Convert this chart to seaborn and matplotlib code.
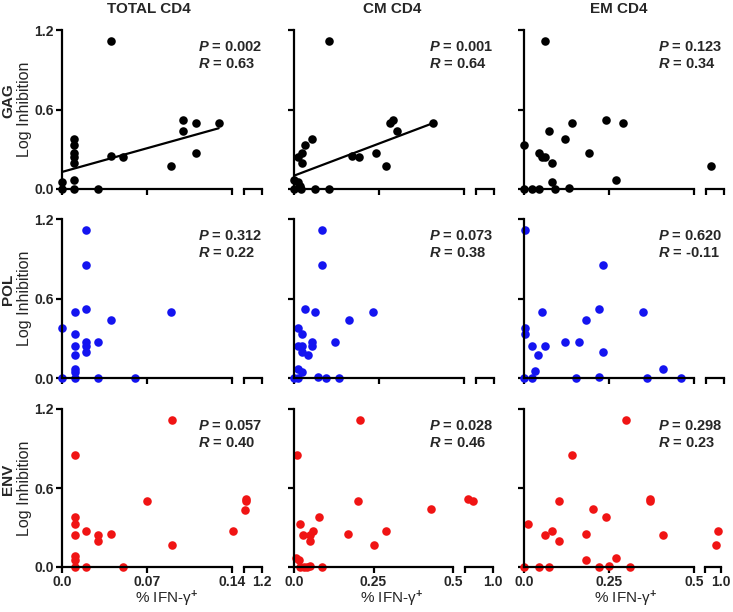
import numpy as np
import pandas as pd
import matplotlib.pyplot as plt
import seaborn as sns

sns.set_style("ticks")
plt.rcParams['font.family'] = ['Liberation Sans', 'DejaVu Sans']
plt.rcParams['font.weight'] = 'bold'
plt.rcParams['mathtext.fontset'] = 'custom'
plt.rcParams['mathtext.rm'] = 'Liberation Sans:bold'
plt.rcParams['mathtext.bf'] = 'Liberation Sans:bold'
plt.rcParams['mathtext.it'] = 'Liberation Sans:italic:bold'
plt.rcParams['mathtext.bfit'] = 'Liberation Sans:italic:bold'

# ---- data ----
col_titles = ["TOTAL CD4", "CM CD4", "EM CD4"]
row_names = ["GAG", "POL", "ENV"]
row_colors = ["black", "#1414f0", "#f01414"]

gag_total_x = [0.040, 0.010, 0.010, 0.010, 0.010, 0.010, 0.010, 0.010, 0.000, 0.000,
               0.030, 0.040, 0.050, 0.090, 0.100, 0.100, 0.110, 0.110, 0.129]
gag_total_y = [1.12, 0.38, 0.33, 0.27, 0.245, 0.20, 0.07, 0.00, 0.05, 0.00,
               0.00, 0.25, 0.24, 0.17, 0.52, 0.44, 0.50, 0.27, 0.50]
gag_cm_x = [0.102, 0.053, 0.032, 0.023, 0.013, 0.023, 0.000, 0.013, 0.017, 0.020, 0.000,
            0.063, 0.102, 0.172, 0.190, 0.242, 0.272, 0.282, 0.292, 0.302, 0.410]
gag_cm_y = [1.12, 0.38, 0.33, 0.27, 0.245, 0.20, 0.07, 0.05, 0.02, 0.00, 0.00,
            0.00, 0.00, 0.25, 0.24, 0.27, 0.17, 0.50, 0.52, 0.44, 0.50]
gag_em_x = [0.063, 0.000, 0.073, 0.043, 0.053, 0.063, 0.082, 0.082, 0.092, 0.000,
            0.024, 0.043, 0.132, 0.122, 0.142, 0.191, 0.242, 0.272, 0.292, 0.926]
gag_em_y = [1.12, 0.33, 0.44, 0.27, 0.245, 0.245, 0.20, 0.05, 0.00, 0.00,
            0.00, 0.00, 0.01, 0.38, 0.50, 0.27, 0.52, 0.07, 0.50, 0.17]

pol_total_x = [0.020, 0.020, 0.020, 0.020, 0.020, 0.020, 0.011, 0.011, 0.011, 0.011,
               0.011, 0.011, 0.011, 0.000, 0.000, 0.030, 0.030, 0.040, 0.060, 0.090]
pol_total_y = [1.12, 0.85, 0.52, 0.27, 0.24, 0.20, 0.50, 0.33, 0.24, 0.17,
               0.07, 0.045, 0.00, 0.38, 0.00, 0.27, 0.00, 0.44, 0.00, 0.50]
pol_cm_x = [0.082, 0.082, 0.032, 0.062, 0.013, 0.023, 0.013, 0.023, 0.023, 0.052, 0.052,
            0.042, 0.013, 0.023, 0.000, 0.013, 0.072, 0.093, 0.133, 0.122, 0.162, 0.232]
pol_cm_y = [1.12, 0.85, 0.52, 0.50, 0.38, 0.33, 0.24, 0.24, 0.20, 0.27, 0.24,
            0.17, 0.07, 0.045, 0.00, 0.00, 0.01, 0.00, 0.00, 0.27, 0.44, 0.50]
pol_em_x = [0.003, 0.232, 0.221, 0.052, 0.351, 0.181, 0.003, 0.003, 0.023, 0.063, 0.122,
            0.161, 0.232, 0.042, 0.032, 0.410, 0.000, 0.023, 0.152, 0.221, 0.361, 0.461]
pol_em_y = [1.12, 0.85, 0.52, 0.50, 0.50, 0.44, 0.38, 0.33, 0.24, 0.24, 0.27,
            0.27, 0.20, 0.17, 0.05, 0.07, 0.00, 0.00, 0.00, 0.01, 0.00, 0.00]

env_total_x = [0.091, 0.011, 0.011, 0.011, 0.011, 0.011, 0.011, 0.011, 0.020, 0.020,
               0.030, 0.030, 0.040, 0.050, 0.070, 0.091, 0.141, 1.109, 1.109, 1.107]
env_total_y = [1.12, 0.85, 0.38, 0.33, 0.24, 0.08, 0.055, 0.00, 0.27, 0.00,
               0.24, 0.20, 0.25, 0.00, 0.50, 0.17, 0.27, 0.52, 0.50, 0.435]
env_cm_x = [0.208, 0.010, 0.200, 0.432, 0.079, 0.019, 0.059, 0.290, 0.028, 0.050, 0.170,
            0.049, 0.250, 0.005, 0.015, 0.020, 0.030, 0.040, 0.050, 0.089, 0.911, 0.927]
env_cm_y = [1.12, 0.85, 0.50, 0.44, 0.38, 0.33, 0.27, 0.27, 0.24, 0.24, 0.25,
            0.20, 0.17, 0.07, 0.05, 0.00, 0.00, 0.00, 0.01, 0.00, 0.52, 0.50]
env_em_x = [0.301, 0.141, 0.102, 0.371, 0.371, 0.202, 0.241, 0.013, 0.082, 0.063, 0.181, 0.102,
            0.410, 0.181, 0.272, 0.251, 0.000, 0.043, 0.073, 0.221, 0.312, 0.984, 0.968]
env_em_y = [1.12, 0.85, 0.50, 0.52, 0.50, 0.44, 0.38, 0.33, 0.27, 0.24, 0.25, 0.20,
            0.24, 0.05, 0.07, 0.01, 0.00, 0.00, 0.00, 0.00, 0.00, 0.27, 0.17]

p_values = [["0.002", "0.001", "0.123"], ["0.312", "0.073", "0.620"], ["0.057", "0.028", "0.298"]]
r_values = [["0.63", "0.64", "0.34"], ["0.22", "0.38", "-0.11"], ["0.40", "0.46", "0.23"]]
fit_line = [[True, True, False], [False, False, False], [False, False, False]]
fit_max_y = 1.0  # the top outlier is left out of the fitted line

data = [[(gag_total_x, gag_total_y), (gag_cm_x, gag_cm_y), (gag_em_x, gag_em_y)],
        [(pol_total_x, pol_total_y), (pol_cm_x, pol_cm_y), (pol_em_x, pol_em_y)],
        [(env_total_x, env_total_y), (env_cm_x, env_cm_y), (env_em_x, env_em_y)]]

# x axis per column: main max, tick labels, break range, break label
main_max = [0.14, 0.5, 0.5]
main_ticklabels = [["0.0", "0.07", "0.14"], ["0.0", "0.25", "0.5"], ["0.0", "0.25", "0.5"]]
break_range = [(1.1, 1.2), (0.9, 1.0), (0.9, 1.0)]
break_label = ["1.2", "1.0", "1.0"]

# ---- layout in pixels ----
W, H = 733, 612
row_px = [(30, 189), (219, 378), (409, 567)]
col_px = [(62, 232, 244, 262), (294, 464, 476, 494), (524, 694, 706, 724)]
col_px_last_row = [(62, 232, 244, 262), (294, 453, 465, 493), (524, 694, 705, 721)]
title_x = [149, 392, 619]
xlabel_x = [167, 392, 626]
ann_x = [198, 429, 658]

fig = plt.figure(figsize=(W / 100, H / 100), dpi=100)


def px_axes(x0, x1, y0, y1):
    return fig.add_axes([x0 / W, 1 - y1 / H, (x1 - x0) / W, (y1 - y0) / H])


def style_axis(ax):
    for s in ['top', 'right']:
        ax.spines[s].set_visible(False)
    for s in ['left', 'bottom']:
        ax.spines[s].set_linewidth(1.6)
        ax.spines[s].set_color('black')
    ax.tick_params(direction='out', length=4, width=1.6, color='black',
                   labelsize=10, pad=2)
    ax.set_facecolor('none')


for r in range(3):
    y0, y1 = row_px[r]
    cols = col_px_last_row if r == 2 else col_px
    for c in range(3):
        x0, x1, b0, b1 = cols[c]
        xs = np.array(data[r][c][0])
        ys = np.array(data[r][c][1])
        lo, hi = break_range[c]
        in_main = xs < lo

        ax = px_axes(x0, x1, y0, y1)
        sns.scatterplot(x=xs[in_main], y=ys[in_main], ax=ax, color=row_colors[r],
                        s=38, linewidth=0, clip_on=False, zorder=1)
        if fit_line[r][c]:
            keep = ys < fit_max_y
            sns.regplot(x=xs[keep], y=ys[keep], ax=ax, scatter=False, ci=None,
                        truncate=True, color='black', line_kws={'lw': 1.6})
        ax.set_xlim(0, main_max[c])
        ax.set_ylim(0, 1.2)
        ax.set_xticks([0, main_max[c] / 2, main_max[c]])
        ax.set_yticks([0, 0.6, 1.2])
        style_axis(ax)
        if r == 2:
            ax.set_xticklabels(main_ticklabels[c], fontweight='bold')
        else:
            ax.set_xticklabels([])
        if c == 0:
            ax.set_yticklabels(["0.0", "0.6", "1.2"], fontweight='bold')
        else:
            ax.set_yticklabels([])
        ax.set_xlabel("")
        ax.set_ylabel("")

        # broken-off piece of the x axis
        bx = px_axes(b0, b1, y0, y1)
        brk = ~in_main
        if brk.any():
            sns.scatterplot(x=xs[brk], y=ys[brk], ax=bx, color=row_colors[r],
                            s=38, linewidth=0, clip_on=False, zorder=1)
        bx.set_xlim(lo, hi)
        bx.set_ylim(0, 1.2)
        style_axis(bx)
        bx.spines['left'].set_visible(False)
        bx.set_yticks([])
        bx.set_xticks([lo, hi])
        bx.set_xticklabels(["", break_label[c]] if r == 2 else ["", ""], fontweight='bold')
        bx.set_xlabel("")
        bx.set_ylabel("")

        # P / R annotation
        fig.text(ann_x[c] / W, 1 - (y0 + 17) / H,
                 r"$\mathbfit{P}$ = " + p_values[r][c], fontsize=10.5,
                 fontweight='bold', va='center', ha='left')
        fig.text(ann_x[c] / W, 1 - (y0 + 34) / H,
                 r"$\mathbfit{R}$ = " + r_values[r][c], fontsize=10.5,
                 fontweight='bold', va='center', ha='left')

    # row labels
    yc = (y0 + y1) / 2
    fig.text(8 / W, 1 - (yc - 9) / H, row_names[r], rotation=90, fontsize=11,
             fontweight='bold', ha='center', va='center')
    fig.text(25 / W, 1 - yc / H, "Log Inhibition", rotation=90, fontsize=11.5,
             fontweight='normal', ha='center', va='center')

for c in range(3):
    fig.text(title_x[c] / W, 1 - 9 / H, col_titles[c], fontsize=11,
             fontweight='bold', ha='center', va='center')
    fig.text(xlabel_x[c] / W, 1 - 599 / H, r"% IFN-γ$^{+}$", fontsize=11,
             fontweight='normal', ha='center', va='center')

plt.savefig("out.png", dpi=100)
plt.close()
